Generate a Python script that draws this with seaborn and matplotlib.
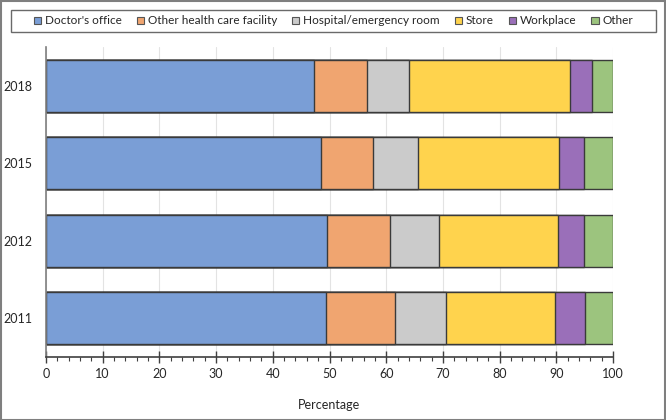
#!/usr/bin/env python3
"""
Stacked horizontal bars: where people got their flu shot, by survey year.
"""

import numpy as np
import pandas as pd
import matplotlib
matplotlib.use('Agg')
import matplotlib.pyplot as plt
from matplotlib.patches import Rectangle
import seaborn as sns

# Data
YEARS = ['2018', '2015', '2012', '2011']
PLACES = ['Doctor\'s office', 'Other health care facility', 'Hospital/emergency room',
          'Store', 'Workplace', 'Other']
DOCTOR = [47.3, 48.5, 49.6, 49.4]
OTHER_HC = [9.3, 9.2, 11.1, 12.2]
HOSPITAL = [7.4, 7.9, 8.6, 8.9]
STORE = [28.4, 24.9, 21.0, 19.2]
WORKPLACE = [3.9, 4.4, 4.6, 5.3]
OTHER = [3.7, 5.1, 5.1, 5.0]
X_TICKS = [0, 10, 20, 30, 40, 50, 60, 70, 80, 90, 100]

PALETTE = ['#7A9ED6', '#F0A570', '#CBCBCB', '#FFD34D', '#9A6FB9', '#9CC47E']
EDGE = '#3a3a3a'

sns.set_theme(style="white")
plt.rcParams['font.family'] = ['Lato', 'DejaVu Sans']

df = pd.DataFrame({'year': YEARS, PLACES[0]: DOCTOR, PLACES[1]: OTHER_HC,
                   PLACES[2]: HOSPITAL, PLACES[3]: STORE, PLACES[4]: WORKPLACE,
                   PLACES[5]: OTHER})
# cumulative ends, so each series can be drawn from 0 with the longest first
cum = df[PLACES].cumsum(axis=1)

fig = plt.figure(figsize=(6.66, 4.2), dpi=100)
ax = fig.add_axes([46 / 666, 63 / 420, 567 / 666, 310 / 420])

for name, color in reversed(list(zip(PLACES, PALETTE))):
    sns.barplot(x=cum[name], y=df['year'], order=YEARS, color=color, width=0.67,
                edgecolor=EDGE, linewidth=1, saturation=1, ax=ax, zorder=2)

ax.set_xlim(0, 100)
ax.set_xticks(X_TICKS)
ax.set_xticks(np.arange(0, 101, 2), minor=True)
ax.grid(axis='x', color='#e3e3e3', linewidth=0.8, zorder=0)
ax.set_axisbelow(True)
ax.set_xlabel('')
ax.set_ylabel('')

for side in ['top', 'right']:
    ax.spines[side].set_visible(False)
ax.spines['left'].set_color('#7f7f7f')
ax.spines['left'].set_linewidth(1.2)
ax.spines['bottom'].set_color('#404040')
ax.spines['bottom'].set_linewidth(1.2)

ax.tick_params(axis='x', which='major', direction='inout', length=8, width=1,
               color='#404040', labelsize=9, pad=4, bottom=True)
ax.tick_params(axis='x', which='minor', direction='out', length=3, width=0.8,
               color='#404040', bottom=True)
ax.tick_params(axis='y', length=0, labelsize=9, pad=10)

fig.text(329 / 666, 1 - 405 / 420, 'Percentage', ha='center', va='center', fontsize=9)

# legend in a framed strip across the top
handles = [Rectangle((0, 0), 1, 1, facecolor=c, edgecolor='#555555', linewidth=0.8)
           for c in PALETTE]
leg = fig.legend(handles, PLACES, loc='center', ncol=6,
                 bbox_to_anchor=(11 / 666, 1 - 32 / 420, 645 / 666, 22 / 420),
                 frameon=False, fontsize=8.5, handlelength=0.6,
                 handleheight=0.6, handletextpad=0.3, columnspacing=1.3,
                 borderaxespad=0, borderpad=0.3)
# frame drawn separately so it spans the full strip
fig.patches.append(Rectangle((11 / 666, 1 - 32 / 420), 645 / 666, 22 / 420,
                             transform=fig.transFigure, fill=False,
                             edgecolor='#6a6a6a', linewidth=1))

# border around the whole figure
fig.patches.append(Rectangle((0.001, 0.001), 0.997, 0.997, transform=fig.transFigure,
                             fill=False, edgecolor='#7f7f7f', linewidth=1.5))

fig.savefig('out.png', dpi=100)
